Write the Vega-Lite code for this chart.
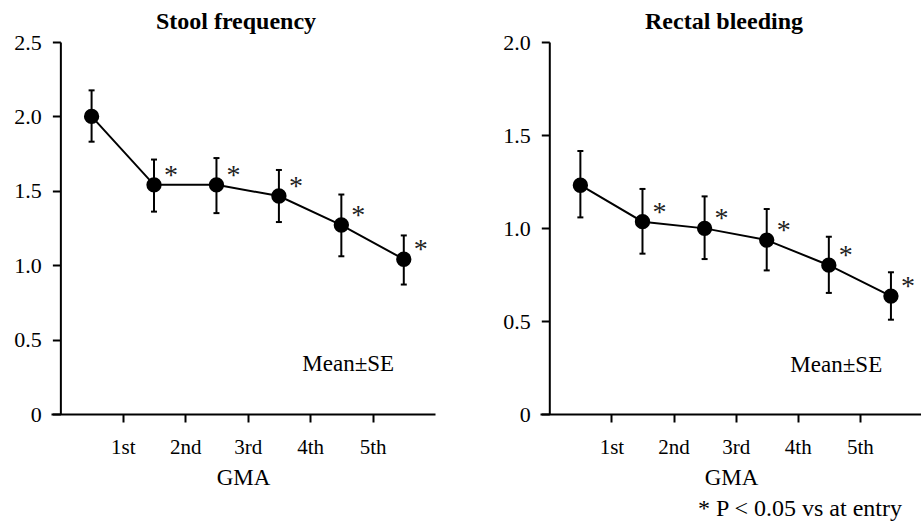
{
  "$schema": "https://vega.github.io/schema/vega-lite/v6.json",
  "padding": {"left": 13, "top": 10, "right": 0, "bottom": 2},
  "spacing": 67,
  "background": "white",
  "config": {
    "font": "Liberation Serif",
    "view": {"stroke": null},
    "axis": {
      "grid": false,
      "domainColor": "black",
      "domainWidth": 2,
      "tickColor": "black",
      "tickWidth": 2,
      "tickSize": 8,
      "labelColor": "black",
      "labelFont": "Liberation Serif",
      "labelFontSize": 22,
      "titleFont": "Liberation Serif",
      "titleFontSize": 23,
      "titleFontWeight": "normal",
      "titleColor": "black"
    },
    "text": {"font": "Liberation Serif"},
    "title": {"font": "Liberation Serif", "color": "black"}
  },
  "title": {"text": "* P < 0.05 vs at entry", "font": "Liberation Serif", "orient": "bottom", "anchor": "end", "fontSize": 24, "fontWeight": "normal", "dx": -20, "offset": 8},
  "datasets": {
    "stool": [
      {"stage": "entry", "t": 0.5, "mean": 2.0, "lo": 1.83, "hi": 2.175, "sig": false},
      {"stage": "1st", "t": 1.5, "mean": 1.54, "lo": 1.36, "hi": 1.71, "sig": true},
      {"stage": "2nd", "t": 2.5, "mean": 1.54, "lo": 1.35, "hi": 1.72, "sig": true},
      {"stage": "3rd", "t": 3.5, "mean": 1.465, "lo": 1.29, "hi": 1.64, "sig": true},
      {"stage": "4th", "t": 4.5, "mean": 1.27, "lo": 1.06, "hi": 1.475, "sig": true},
      {"stage": "5th", "t": 5.5, "mean": 1.04, "lo": 0.87, "hi": 1.2, "sig": true}
    ],
    "bleeding": [
      {"stage": "entry", "t": 0.5, "mean": 1.23, "lo": 1.057, "hi": 1.414, "sig": false},
      {"stage": "1st", "t": 1.5, "mean": 1.034, "lo": 0.862, "hi": 1.21, "sig": true},
      {"stage": "2nd", "t": 2.5, "mean": 0.998, "lo": 0.833, "hi": 1.17, "sig": true},
      {"stage": "3rd", "t": 3.5, "mean": 0.935, "lo": 0.772, "hi": 1.102, "sig": true},
      {"stage": "4th", "t": 4.5, "mean": 0.8, "lo": 0.651, "hi": 0.953, "sig": true},
      {"stage": "5th", "t": 5.5, "mean": 0.634, "lo": 0.507, "hi": 0.762, "sig": true}
    ]
  },
  "hconcat": [
    {
      "width": 384,
      "height": 372,
      "title": {"text": "Stool frequency", "font": "Liberation Serif", "fontSize": 24, "fontWeight": "bold", "dx": -7, "offset": -3},
      "data": {"name": "stool"},
      "encoding": {
        "x": {"field": "t", "type": "quantitative", "scale": {"domain": [-0.15, 6], "nice": false, "zero": false},
          "axis": {"title": "GMA", "values": [1, 2, 3, 4, 5], "labelExpr": "['','1st','2nd','3rd','4th','5th'][datum.value]", "labelPadding": 14, "titlePadding": 9, "labelFontSize": 21}}
      },
      "layer": [
        {"mark": {"type": "rule", "color": "black", "strokeWidth": 2},
          "encoding": {"y": {"field": "lo", "type": "quantitative", "scale": {"domain": [0, 2.5], "nice": false},
            "axis": {"title": null, "values": [0, 0.5, 1, 1.5, 2, 2.5], "labelExpr": "datum.value == 0 ? '0' : format(datum.value, '.1f')", "labelPadding": 11, "offset": -9.37}},
            "y2": {"field": "hi"}}},
        {"mark": {"type": "tick", "orient": "horizontal", "size": 6, "thickness": 2, "color": "black", "opacity": 1},
          "encoding": {"y": {"field": "lo", "type": "quantitative"}}},
        {"mark": {"type": "tick", "orient": "horizontal", "size": 6, "thickness": 2, "color": "black", "opacity": 1},
          "encoding": {"y": {"field": "hi", "type": "quantitative"}}},
        {"mark": {"type": "line", "color": "black", "strokeWidth": 2},
          "encoding": {"y": {"field": "mean", "type": "quantitative"}}},
        {"mark": {"type": "point", "filled": true, "size": 235, "color": "black", "opacity": 1},
          "encoding": {"y": {"field": "mean", "type": "quantitative"}}},
        {"transform": [{"filter": "datum.sig"}],
          "mark": {"type": "text", "text": "*", "font": "Liberation Serif", "fontSize": 28, "dx": 17, "dy": -1, "baseline": "alphabetic", "fill": "#222222"},
          "encoding": {"y": {"field": "mean", "type": "quantitative"}}},
        {"data": {"values": [{"label": "Mean±SE", "lx": 4.61, "ly": 0.289}]},
          "mark": {"type": "text", "font": "Liberation Serif", "fontSize": 23, "fontWeight": "normal", "baseline": "alphabetic", "align": "center", "fill": "black"},
          "encoding": {"x": {"field": "lx", "type": "quantitative"}, "y": {"field": "ly", "type": "quantitative"}, "text": {"field": "label"}}}
      ]
    },
    {
      "width": 382,
      "height": 372,
      "title": {"text": "Rectal bleeding", "font": "Liberation Serif", "fontSize": 24, "fontWeight": "bold", "dx": -7, "offset": -3},
      "data": {"name": "bleeding"},
      "encoding": {
        "x": {"field": "t", "type": "quantitative", "scale": {"domain": [-0.15, 6], "nice": false, "zero": false},
          "axis": {"title": "GMA", "values": [1, 2, 3, 4, 5], "labelExpr": "['','1st','2nd','3rd','4th','5th'][datum.value]", "labelPadding": 14, "titlePadding": 9, "labelFontSize": 21}}
      },
      "layer": [
        {"mark": {"type": "rule", "color": "black", "strokeWidth": 2},
          "encoding": {"y": {"field": "lo", "type": "quantitative", "scale": {"domain": [0, 2.0], "nice": false},
            "axis": {"title": null, "values": [0, 0.5, 1, 1.5, 2], "labelExpr": "datum.value == 0 ? '0' : format(datum.value, '.1f')", "labelPadding": 11, "offset": -9.3}},
            "y2": {"field": "hi"}}},
        {"mark": {"type": "tick", "orient": "horizontal", "size": 6, "thickness": 2, "color": "black", "opacity": 1},
          "encoding": {"y": {"field": "lo", "type": "quantitative"}}},
        {"mark": {"type": "tick", "orient": "horizontal", "size": 6, "thickness": 2, "color": "black", "opacity": 1},
          "encoding": {"y": {"field": "hi", "type": "quantitative"}}},
        {"mark": {"type": "line", "color": "black", "strokeWidth": 2},
          "encoding": {"y": {"field": "mean", "type": "quantitative"}}},
        {"mark": {"type": "point", "filled": true, "size": 235, "color": "black", "opacity": 1},
          "encoding": {"y": {"field": "mean", "type": "quantitative"}}},
        {"transform": [{"filter": "datum.sig"}],
          "mark": {"type": "text", "text": "*", "font": "Liberation Serif", "fontSize": 28, "dx": 17, "dy": -1, "baseline": "alphabetic", "fill": "#222222"},
          "encoding": {"y": {"field": "mean", "type": "quantitative"}}},
        {"data": {"values": [{"label": "Mean±SE", "lx": 4.62, "ly": 0.227}]},
          "mark": {"type": "text", "font": "Liberation Serif", "fontSize": 23, "fontWeight": "normal", "baseline": "alphabetic", "align": "center", "fill": "black"},
          "encoding": {"x": {"field": "lx", "type": "quantitative"}, "y": {"field": "ly", "type": "quantitative"}, "text": {"field": "label"}}}
      ]
    }
  ]
}
